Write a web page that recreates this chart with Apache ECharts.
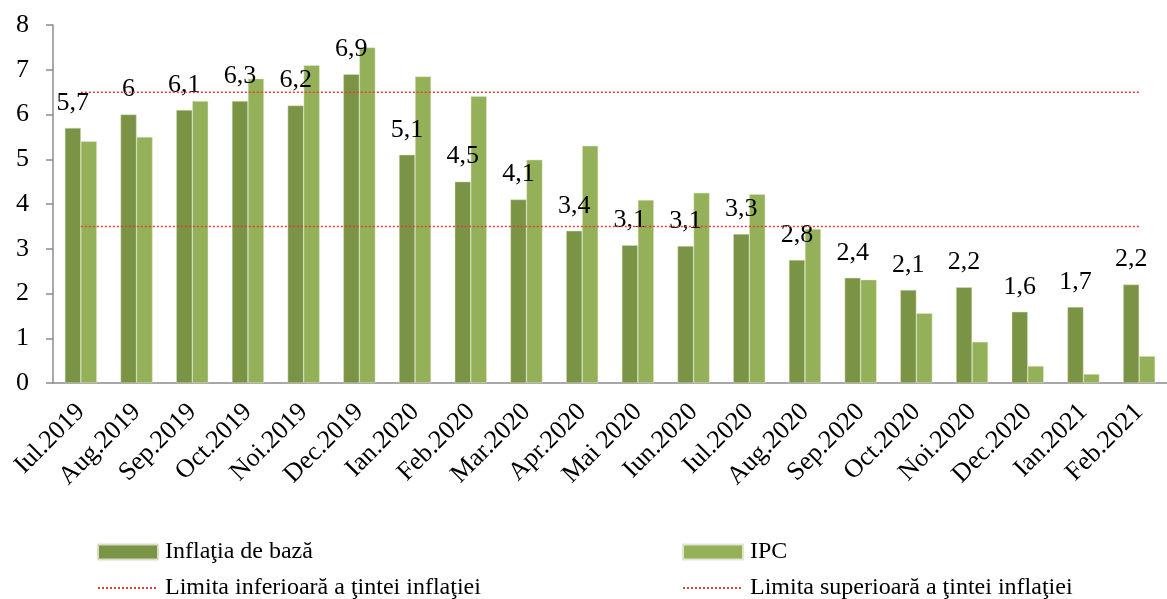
<!DOCTYPE html>
<html>
<head>
<meta charset="utf-8">
<script src="https://cdn.jsdelivr.net/npm/echarts@6/dist/echarts.min.js"></script>
<style>
  html, body { margin: 0; padding: 0; background: #fff; }
  #chart { width: 1167px; height: 599px; }
</style>
</head>
<body>
<div id="chart"></div>
<script>
const categories = ['Iul.2019','Aug.2019','Sep.2019','Oct.2019','Noi.2019','Dec.2019','Ian.2020','Feb.2020','Mar.2020','Apr.2020',
  'Mai 2020','Iun.2020','Iul.2020','Aug.2020','Sep.2020','Oct.2020','Noi.2020','Dec.2020','Ian.2021','Feb.2021'];
const coreInflation = [5.7, 6.0, 6.1, 6.3, 6.2, 6.9, 5.1, 4.5, 4.1, 3.4, 3.08, 3.06, 3.33, 2.75, 2.35, 2.08, 2.14, 1.59, 1.7, 2.2];
const coreLabels = ['5,7','6','6,1','6,3','6,2','6,9','5,1','4,5','4,1','3,4','3,1','3,1','3,3','2,8','2,4','2,1','2,2','1,6','1,7','2,2'];
const ipc = [5.4, 5.5, 6.3, 6.8, 7.1, 7.5, 6.85, 6.41, 4.99, 5.3, 4.09, 4.25, 4.22, 3.44, 2.31, 1.56, 0.92, 0.38, 0.2, 0.6];
const lowerLimit = [3.5, 3.5, 3.5, 3.5, 3.5, 3.5, 3.5, 3.5, 3.5, 3.5, 3.5, 3.5, 3.5, 3.5, 3.5, 3.5, 3.5, 3.5, 3.5, 3.5];
const upperLimit = [6.5, 6.5, 6.5, 6.5, 6.5, 6.5, 6.5, 6.5, 6.5, 6.5, 6.5, 6.5, 6.5, 6.5, 6.5, 6.5, 6.5, 6.5, 6.5, 6.5];

const FONT = '"Liberation Serif", "DejaVu Serif", serif';
const darkGreen = '#7b9344';
const lightGreen = '#94b058';
const red = '#d9413b';

const chart = echarts.init(document.getElementById('chart'));

// one legend per entry so the four items sit in a 2x2 block
function legendAt(name, left, top, icon) {
  return {
    left: left, top: top, itemWidth: 60, itemHeight: 15, itemGap: 0,
    textStyle: { color: '#000', fontSize: 24, fontFamily: FONT, padding: [0, 0, 0, 2] },
    data: [icon ? { name: name, icon: icon } : name]
  };
}

chart.setOption({
  animation: false,
  textStyle: { fontFamily: FONT },
  grid: { left: 53, right: -10, top: 25, bottom: 216 },
  legend: [
    legendAt('Inflaţia de bază', 92, 535, 'rect'),
    legendAt('Limita inferioară a ţintei inflaţiei', 92, 571),
    legendAt('IPC', 677, 535, 'rect'),
    legendAt('Limita superioară a ţintei inflaţiei', 677, 571)
  ],
  xAxis: {
    type: 'category',
    data: categories,
    axisLine: { lineStyle: { color: '#8c8c8c', width: 1.5 } },
    axisTick: { length: 7, lineStyle: { color: '#8c8c8c', width: 1.5 } },
    axisLabel: {
      rotate: 45, interval: 0, margin: 25,
      color: '#000', fontSize: 26, fontFamily: FONT
    }
  },
  yAxis: {
    type: 'value', min: 0, max: 8, interval: 1,
    axisLine: { show: true, lineStyle: { color: '#8c8c8c', width: 1.5 } },
    axisTick: { show: true, length: 7, lineStyle: { color: '#8c8c8c', width: 1.5 } },
    splitLine: { show: false },
    axisLabel: { margin: 24, color: '#000', fontSize: 26, fontFamily: FONT }
  },
  series: [
    {
      name: 'Inflaţia de bază', type: 'bar', data: coreInflation,
      barWidth: 16, barGap: '0%',
      itemStyle: { color: darkGreen, borderColor: '#d6dfc2', borderWidth: 0.5 },
      label: {
        show: true, position: 'top', distance: 12, color: '#000', fontSize: 26, fontFamily: FONT,
        formatter: p => coreLabels[p.dataIndex]
      }
    },
    {
      name: 'IPC', type: 'bar', data: ipc,
      barWidth: 16,
      itemStyle: { color: lightGreen, borderColor: '#dfe8cc', borderWidth: 0.5 }
    },
    {
      name: 'Limita inferioară a ţintei inflaţiei', type: 'line', data: lowerLimit,
      symbol: 'none', lineStyle: { color: red, width: 1.5, type: [2, 2] },
      itemStyle: { color: red, opacity: 0 }
    },
    {
      name: 'Limita superioară a ţintei inflaţiei', type: 'line', data: upperLimit,
      symbol: 'none', lineStyle: { color: red, width: 1.5, type: [2, 2] },
      itemStyle: { color: red, opacity: 0 }
    }
  ]
});
</script>
</body>
</html>
